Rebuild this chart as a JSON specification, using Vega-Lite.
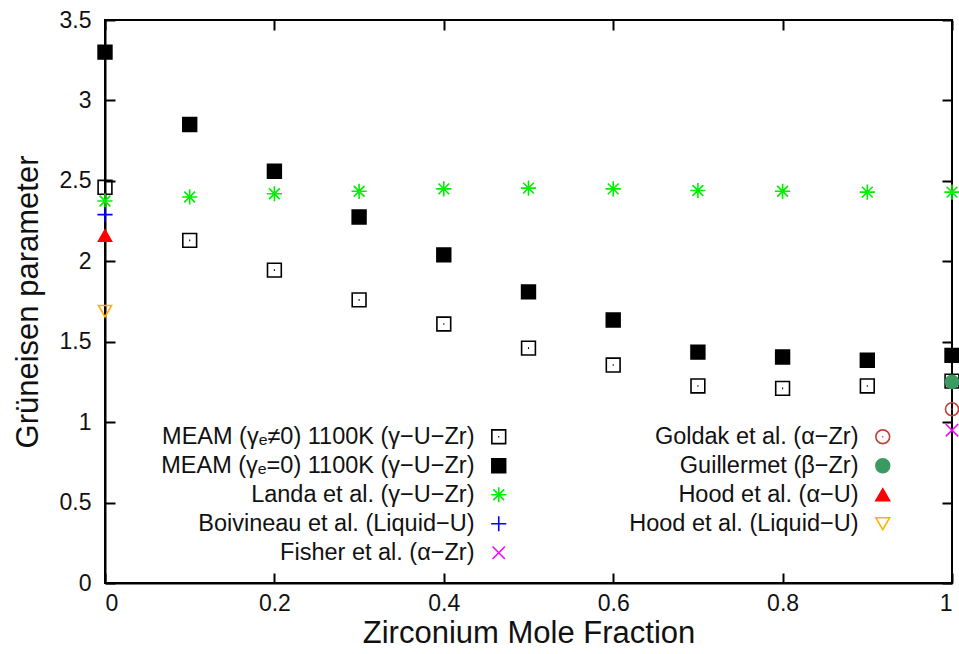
{
  "$schema": "https://vega.github.io/schema/vega-lite/v6.json",
  "width": 847,
  "height": 563,
  "autosize": {"type": "none"},
  "padding": {"left": 105, "top": 20, "right": 7, "bottom": 71},
  "background": "white",
  "config": {
    "view": {"stroke": "black", "strokeWidth": 2},
    "font": "Liberation Sans",
    "axis": {
      "domainColor": "black", "domainWidth": 2,
      "labelFont": "Liberation Sans", "labelFontSize": 23, "labelColor": "#111",
      "titleFont": "Liberation Sans", "titleFontSize": 31, "titleFontWeight": "normal", "titleColor": "#111",
      "grid": false
    },
    "legend": {
      "labelFont": "Liberation Sans", "labelFontSize": 23.5, "labelColor": "#111",
      "labelAlign": "right", "labelOffset": -36, "labelLimit": 600,
      "symbolSize": 190, "symbolStrokeWidth": 1.6, "rowPadding": 4,
      "orient": "none", "title": null
    }
  },
  "datasets": {
    "g1": [
      {"series": "MEAM (γₑ≠0) 1100K (γ−U−Zr)", "x": 0.0, "y": 2.46},
      {"series": "MEAM (γₑ≠0) 1100K (γ−U−Zr)", "x": 0.1, "y": 2.13},
      {"series": "MEAM (γₑ≠0) 1100K (γ−U−Zr)", "x": 0.2, "y": 1.945},
      {"series": "MEAM (γₑ≠0) 1100K (γ−U−Zr)", "x": 0.3, "y": 1.76},
      {"series": "MEAM (γₑ≠0) 1100K (γ−U−Zr)", "x": 0.4, "y": 1.61},
      {"series": "MEAM (γₑ≠0) 1100K (γ−U−Zr)", "x": 0.5, "y": 1.46},
      {"series": "MEAM (γₑ≠0) 1100K (γ−U−Zr)", "x": 0.6, "y": 1.355},
      {"series": "MEAM (γₑ≠0) 1100K (γ−U−Zr)", "x": 0.7, "y": 1.225},
      {"series": "MEAM (γₑ≠0) 1100K (γ−U−Zr)", "x": 0.8, "y": 1.21},
      {"series": "MEAM (γₑ≠0) 1100K (γ−U−Zr)", "x": 0.9, "y": 1.225},
      {"series": "MEAM (γₑ≠0) 1100K (γ−U−Zr)", "x": 1.0, "y": 1.255},
      {"series": "MEAM (γₑ=0) 1100K (γ−U−Zr)", "x": 0.0, "y": 3.30},
      {"series": "MEAM (γₑ=0) 1100K (γ−U−Zr)", "x": 0.1, "y": 2.85},
      {"series": "MEAM (γₑ=0) 1100K (γ−U−Zr)", "x": 0.2, "y": 2.56},
      {"series": "MEAM (γₑ=0) 1100K (γ−U−Zr)", "x": 0.3, "y": 2.275},
      {"series": "MEAM (γₑ=0) 1100K (γ−U−Zr)", "x": 0.4, "y": 2.04},
      {"series": "MEAM (γₑ=0) 1100K (γ−U−Zr)", "x": 0.5, "y": 1.81},
      {"series": "MEAM (γₑ=0) 1100K (γ−U−Zr)", "x": 0.6, "y": 1.635},
      {"series": "MEAM (γₑ=0) 1100K (γ−U−Zr)", "x": 0.7, "y": 1.435},
      {"series": "MEAM (γₑ=0) 1100K (γ−U−Zr)", "x": 0.8, "y": 1.405},
      {"series": "MEAM (γₑ=0) 1100K (γ−U−Zr)", "x": 0.9, "y": 1.385},
      {"series": "MEAM (γₑ=0) 1100K (γ−U−Zr)", "x": 1.0, "y": 1.415},
      {"series": "Landa et al. (γ−U−Zr)", "x": 0.0, "y": 2.375},
      {"series": "Landa et al. (γ−U−Zr)", "x": 0.1, "y": 2.40},
      {"series": "Landa et al. (γ−U−Zr)", "x": 0.2, "y": 2.42},
      {"series": "Landa et al. (γ−U−Zr)", "x": 0.3, "y": 2.435},
      {"series": "Landa et al. (γ−U−Zr)", "x": 0.4, "y": 2.45},
      {"series": "Landa et al. (γ−U−Zr)", "x": 0.5, "y": 2.455},
      {"series": "Landa et al. (γ−U−Zr)", "x": 0.6, "y": 2.45},
      {"series": "Landa et al. (γ−U−Zr)", "x": 0.7, "y": 2.44},
      {"series": "Landa et al. (γ−U−Zr)", "x": 0.8, "y": 2.435},
      {"series": "Landa et al. (γ−U−Zr)", "x": 0.9, "y": 2.43},
      {"series": "Landa et al. (γ−U−Zr)", "x": 1.0, "y": 2.43},
      {"series": "Boivineau et al. (Liquid−U)", "x": 0.0, "y": 2.29},
      {"series": "Fisher et al. (α−Zr)", "x": 1.0, "y": 0.95}
    ],
    "g2": [
      {"series": "Goldak et al. (α−Zr)", "x": 1.0, "y": 1.08},
      {"series": "Guillermet (β−Zr)", "x": 1.0, "y": 1.25},
      {"series": "Hood et al. (α−U)", "x": 0.0, "y": 2.16},
      {"series": "Hood et al. (Liquid−U)", "x": 0.0, "y": 1.69}
    ]
  },
  "layer": [
    {
      "data": {"name": "g1"},
      "mark": {"type": "point", "size": 190, "strokeWidth": 1.6, "opacity": 1},
      "encoding": {
        "x": {"field": "x", "type": "quantitative", "scale": {"domain": [0, 1], "nice": false},
              "axis": {"values": [0, 0.2, 0.4, 0.6, 0.8, 1], "format": "~g", "title": "Zirconium Mole Fraction", "ticks": true, "tickSize": -10, "tickWidth": 2, "tickColor": "black", "labelPadding": 19, "titlePadding": 3}},
        "y": {"field": "y", "type": "quantitative", "scale": {"domain": [0, 3.5], "nice": false},
              "axis": {"values": [0, 0.5, 1, 1.5, 2, 2.5, 3, 3.5], "format": "~g", "title": "Grüneisen parameter", "ticks": true, "tickSize": -10, "tickWidth": 2, "tickColor": "black", "labelPadding": 24, "titlePadding": 15}},
        "shape": {"field": "series", "type": "nominal",
          "scale": {"domain": ["MEAM (γₑ≠0) 1100K (γ−U−Zr)", "MEAM (γₑ=0) 1100K (γ−U−Zr)", "Landa et al. (γ−U−Zr)", "Boivineau et al. (Liquid−U)", "Fisher et al. (α−Zr)"],
                    "range": ["M-1,-1H1V1H-1Z M-0.08,0H0.08", "square", "M-1.1,0H1.1M0,-1.1V1.1M-0.78,-0.78L0.78,0.78M-0.78,0.78L0.78,-0.78", "M-1.1,0H1.1M0,-1.1V1.1", "M-0.9,-0.9L0.9,0.9M-0.9,0.9L0.9,-0.9"]},
          "legend": {"legendX": 382, "legendY": 405}},
        "fill": {"field": "series", "type": "nominal",
          "scale": {"domain": ["MEAM (γₑ≠0) 1100K (γ−U−Zr)", "MEAM (γₑ=0) 1100K (γ−U−Zr)", "Landa et al. (γ−U−Zr)", "Boivineau et al. (Liquid−U)", "Fisher et al. (α−Zr)"],
                    "range": ["transparent", "black", "transparent", "transparent", "transparent"]},
          "legend": {"legendX": 382, "legendY": 405}},
        "stroke": {"field": "series", "type": "nominal",
          "scale": {"domain": ["MEAM (γₑ≠0) 1100K (γ−U−Zr)", "MEAM (γₑ=0) 1100K (γ−U−Zr)", "Landa et al. (γ−U−Zr)", "Boivineau et al. (Liquid−U)", "Fisher et al. (α−Zr)"],
                    "range": ["black", "black", "#00ee00", "#0000ff", "#ff00ff"]},
          "legend": {"legendX": 382, "legendY": 405}}
      }
    },
    {
      "data": {"name": "g2"},
      "mark": {"type": "point", "size": 170, "strokeWidth": 1.6, "opacity": 1},
      "encoding": {
        "x": {"field": "x", "type": "quantitative",
              "axis": {"orient": "top", "values": [0, 0.2, 0.4, 0.6, 0.8, 1], "labels": false, "title": null, "domain": false, "ticks": true, "tickSize": -10, "tickWidth": 2, "tickColor": "black"}},
        "y": {"field": "y", "type": "quantitative",
              "axis": {"orient": "right", "values": [0, 0.5, 1, 1.5, 2, 2.5, 3, 3.5], "labels": false, "title": null, "domain": false, "ticks": true, "tickSize": -10, "tickWidth": 2, "tickColor": "black"}},
        "shape": {"field": "series", "type": "nominal",
          "scale": {"domain": ["Goldak et al. (α−Zr)", "Guillermet (β−Zr)", "Hood et al. (α−U)", "Hood et al. (Liquid−U)"],
                    "range": ["M1,0A1,1 0 1,1 -1,0A1,1 0 1,1 1,0Z M-0.08,0H0.08", "circle", "triangle-up", "triangle-down"]},
          "legend": {"legendX": 766, "legendY": 405}},
        "fill": {"field": "series", "type": "nominal",
          "scale": {"domain": ["Goldak et al. (α−Zr)", "Guillermet (β−Zr)", "Hood et al. (α−U)", "Hood et al. (Liquid−U)"],
                    "range": ["transparent", "#3a9a62", "#ff0000", "transparent"]},
          "legend": {"legendX": 766, "legendY": 405}},
        "stroke": {"field": "series", "type": "nominal",
          "scale": {"domain": ["Goldak et al. (α−Zr)", "Guillermet (β−Zr)", "Hood et al. (α−U)", "Hood et al. (Liquid−U)"],
                    "range": ["#c0403a", "#3a9a62", "#ff0000", "#ffb000"]},
          "legend": {"legendX": 766, "legendY": 405}}
      }
    }
  ],
  "resolve": {
    "scale": {"shape": "independent", "fill": "independent", "stroke": "independent"},
    "axis": {"x": "independent", "y": "independent"},
    "legend": {"shape": "independent", "fill": "independent", "stroke": "independent"}
  }
}
